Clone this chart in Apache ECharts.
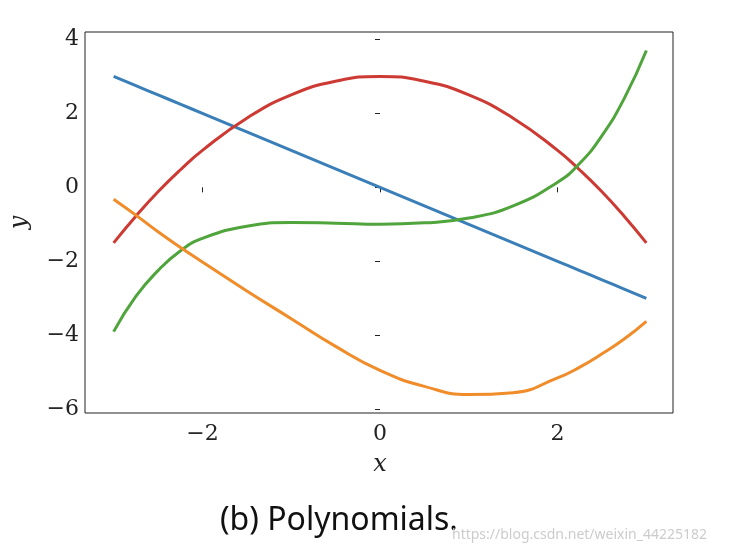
<!DOCTYPE html>
<html><head><meta charset="utf-8">
<script src="https://cdn.jsdelivr.net/npm/echarts@6/dist/echarts.min.js"></script>
<style>html,body{margin:0;background:#fff}#c{width:732px;height:554px}</style>
</head><body><div id="c"></div>
<script>
// values
const xs = [-3, -2.75, -2.5, -2.25, -2, -1.5, -1, -0.5, 0, 0.5, 1, 1.5, 2, 2.25, 2.5, 2.75, 3];
const blue = [3, 2.75, 2.5, 2.25, 2, 1.5, 1, 0.5, 0, -0.5, -1, -1.5, -2, -2.25, -2.5, -2.75, -3];
const redY = [-1.5, -0.78, -0.12, 0.47, 1.0, 1.87, 2.5, 2.87, 3.0, 2.87, 2.5, 1.87, 1.0, 0.47, -0.12, -0.78, -1.5];
const greenY = [-3.9, -2.95, -2.25, -1.72, -1.38, -1.05, -0.95, -0.97, -1.0, -0.96, -0.83, -0.5, 0.14, 0.65, 1.4, 2.4, 3.7];
const orangeY = [-0.32, -0.75, -1.2, -1.62, -2.02, -2.8, -3.55, -4.3, -4.95, -5.38, -5.6, -5.55, -5.15, -4.86, -4.5, -4.1, -3.62];
const xTicks = [-2, 0, 2];
const yTicks = [-6, -4, -2, 0, 2, 4];

const pts = ys => xs.map((x, i) => [x, ys[i]]);
const fmt = v => (v < 0 ? '\u2212' + (-v) : '' + v);
const font = '"DejaVu Serif", "Liberation Serif", serif';

const chart = echarts.init(document.getElementById('c'));
const line = (data, color) => ({
    type: 'line', data: data, smooth: 0.5, showSymbol: false,
    lineStyle: { color: color, width: 3 }, animation: false
});
chart.setOption({
    backgroundColor: '#fff',
    grid: { left: 85, right: 59, top: 32, bottom: 141 },
    xAxis: {
        type: 'value', min: -3.3, max: 3.3,
        name: 'x', nameLocation: 'middle', nameGap: 40,
        nameTextStyle: { fontFamily: font, fontStyle: 'italic', fontSize: 24, color: '#222' },
        axisLine: { show: false },
        axisTick: { show: true, customValues: xTicks, length: 5, lineStyle: { color: '#222' } },
        axisLabel: { customValues: xTicks, formatter: fmt, fontFamily: font, fontSize: 22, color: '#222', margin: 10 },
        splitLine: { show: false }
    },
    yAxis: {
        type: 'value', min: -6.1, max: 4.2,
        name: 'y', nameLocation: 'middle', nameGap: 55, nameRotate: 90,
        nameTextStyle: { fontFamily: font, fontStyle: 'italic', fontSize: 24, color: '#222' },
        axisLine: { show: false },
        axisTick: { show: true, customValues: yTicks, length: 5, lineStyle: { color: '#222' } },
        axisLabel: { customValues: yTicks, formatter: fmt, fontFamily: font, fontSize: 22, color: '#222', margin: 8 },
        splitLine: { show: false }
    },
    graphic: [
        { type: 'rect', shape: { x: 85, y: 32, width: 588, height: 381 }, style: { fill: 'none', stroke: '#222', lineWidth: 1 }, z: 10 },
        { type: 'text', left: 220, top: 505, style: { text: '(b) Polynomials.', font: '32px "Noto Sans", sans-serif', fill: '#111' } },
        { type: 'text', left: 452, top: 528, style: { text: 'https://blog.csdn.net/weixin_44225182', font: '14px "Noto Sans", sans-serif', fill: '#ccc' } }
    ],
    series: [
        line(pts(blue), '#3a7fb8'),
        line(pts(redY), '#cc3a33'),
        line(pts(greenY), '#50a43c'),
        line(pts(orangeY), '#f08c2a')
    ]
});
</script></body></html>
